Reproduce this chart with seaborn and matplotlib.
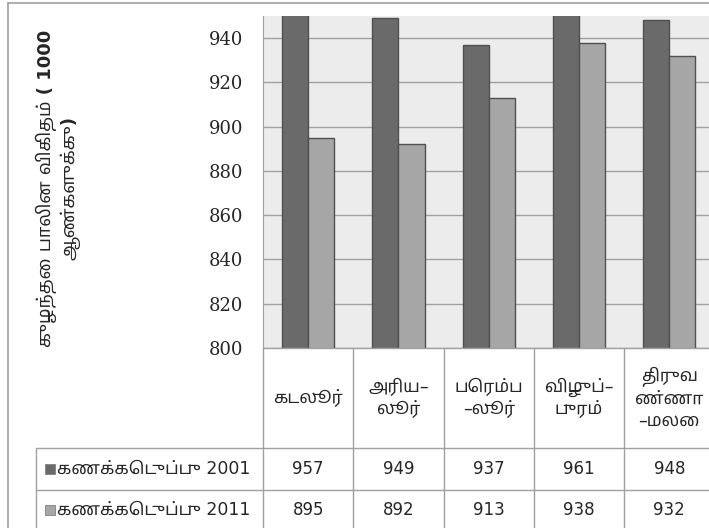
import pandas as pd
import matplotlib.pyplot as plt
import seaborn as sns
from matplotlib.lines import Line2D
from matplotlib.patches import Rectangle

# data
districts = ['கடலூர்', 'அரிய–\nலூர்', 'பெரம்ப\n–லூர்', 'விழுப்–\nபுரம்', 'திருவ\nண்ணா\n–மலை']
series = ['கணக்கெடுப்பு 2001', 'கணக்கெடுப்பு 2011']
census_2001 = [957, 949, 937, 961, 948]
census_2011 = [895, 892, 913, 938, 932]
yticks = [800, 820, 840, 860, 880, 900, 920, 940]

sns.set_style('white')
plt.rcParams['font.family'] = ['DejaVu Sans', 'Noto Sans Tamil', 'Lohit Tamil']

W, H = 709, 528
dark, light = '#6a6a6a', '#a6a6a6'
linec = '#a0a0a0'

df = pd.DataFrame({
    'district': districts * 2,
    'value': census_2001 + census_2011,
    'census': [series[0]] * 5 + [series[1]] * 5,
})

fig = plt.figure(figsize=(W / 100, H / 100), dpi=100)
ax = fig.add_axes([263 / W, 1 - 348 / H, (W - 263) / W, (348 - 16) / H])
sns.barplot(data=df, x='district', y='value', hue='census', palette=[dark, light],
            width=0.58, edgecolor='#505050', linewidth=1, ax=ax, legend=False)
ax.set_facecolor('#ececec')
ax.set_ylim(800, 950)
ax.set_xlim(-0.5, 4.44)
ax.set_yticks(yticks)
ax.set_yticklabels([str(t) for t in yticks], family='DejaVu Serif', fontsize=13)
ax.set_xticks([])
ax.set_xlabel('')
ax.set_ylabel('')
ax.yaxis.grid(True, color=linec, linewidth=1)
ax.set_axisbelow(True)
ax.tick_params(axis='y', length=0, pad=14)
for s in ['top', 'right', 'bottom']:
    ax.spines[s].set_visible(False)
ax.spines['left'].set_color(linec)


def py(p):
    # pixel y (from top) -> axes fraction
    return (348 - p) / (348 - 16)


tr = ax.get_xaxis_transform()
rows = [348, 448, 490, 532]
x_left = -0.5 - (263 - 36) / 90.3
# horizontal table lines
for r in rows:
    x0 = -0.5 if r == 348 else x_left
    ax.add_line(Line2D([x0, 4.6], [py(r), py(r)], transform=tr, color=linec,
                       lw=1, clip_on=False))
# vertical table lines
for i in range(6):
    ax.add_line(Line2D([i - 0.5, i - 0.5], [py(348), py(532)], transform=tr,
                       color=linec, lw=1, clip_on=False))
ax.add_line(Line2D([x_left, x_left], [py(448), py(532)], transform=tr,
                   color=linec, lw=1, clip_on=False))

# header and values
for i, name in enumerate(districts):
    ax.text(i, py(398), name, transform=tr, ha='center', va='center',
            fontsize=12.5, linespacing=1.25, multialignment='center')
    ax.text(i, py(469), str(census_2001[i]), transform=tr, ha='center',
            va='center', fontsize=12)
    ax.text(i, py(510), str(census_2011[i]), transform=tr, ha='center',
            va='center', fontsize=12)

# legend keys in the table
for j, (lab, col) in enumerate(zip(series, [dark, light])):
    yc = 469 + 41 * j
    fig.patches.append(Rectangle((45 / W, 1 - (yc + 5) / H), 10 / W, 10 / H,
                                 transform=fig.transFigure, facecolor=col,
                                 edgecolor='#808080', lw=0.6))
    fig.text(57 / W, 1 - yc / H, lab, ha='left', va='center', fontsize=12.5)

# outer border
fig.add_artist(Line2D([8 / W, 8 / W], [0, 1 - 3 / H], color=linec, lw=1.2))
fig.add_artist(Line2D([8 / W, 1], [1 - 3 / H, 1 - 3 / H], color=linec, lw=1.2))

# y label
fig.text(58 / W, 1 - 188 / H, 'குழந்தை பாலின விகிதம் ( 1000\nஆண்களுக்கு)',
         rotation=90, ha='center', va='center', fontsize=13, fontweight='bold',
         multialignment='center', linespacing=1.2)

fig.savefig('out.png', dpi=100)
